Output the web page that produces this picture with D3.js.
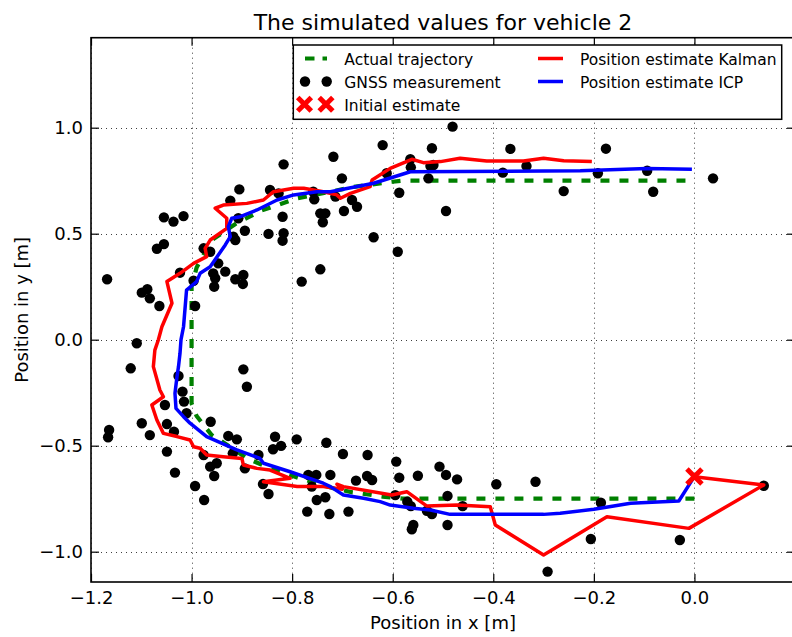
<!DOCTYPE html>
<html>
<head>
<meta charset="utf-8">
<script src="https://cdn.jsdelivr.net/npm/d3@7"></script>
<style>
  html, body { margin: 0; padding: 0; background: #fff; }
  svg { display: block; font-family: "DejaVu Sans", sans-serif; }
</style>
</head>
<body>
<svg id="chart" width="792" height="637"></svg>
<script>
// ---------------- DATA ----------------
const title = "The simulated values for vehicle 2";
const xLabel = "Position in x [m]";
const yLabel = "Position in y [m]";
const xTicks = [-1.2, -1.0, -0.8, -0.6, -0.4, -0.2, 0.0];
const yTicks = [-1.0, -0.5, 0.0, 0.5, 1.0];
const legendLabels = ["Actual trajectory", "GNSS measurement", "Initial estimate",
                      "Position estimate Kalman", "Position estimate ICP"];

const actualTrajectory = [
  [0.0, -0.75], [-0.58, -0.75], [-0.62, -0.74], [-0.68, -0.72], [-0.72, -0.70],
  [-0.79, -0.65], [-0.86, -0.59], [-0.89, -0.56], [-0.92, -0.51], [-0.96, -0.45],
  [-0.99, -0.36], [-1.0, -0.30], [-1.0, 0.25], [-0.99, 0.34], [-0.96, 0.47],
  [-0.91, 0.55], [-0.86, 0.61], [-0.79, 0.667], [-0.72, 0.70], [-0.68, 0.72],
  [-0.60, 0.745], [-0.58, 0.75], [0.0, 0.75]
];

const initialEstimate = [[0.0, -0.645]];

const gnss = [
  [-0.718,0.863],[-0.817,0.827],[-0.905,0.709],[-0.923,0.656],[-0.844,0.706],[-0.827,0.69],
  [-0.758,0.698],[-0.756,0.662],[-0.714,0.675],[-0.744,0.596],[-0.734,0.596],[-0.739,0.554],
  [-0.819,0.58],[-0.817,0.502],[-0.819,0.467],[-0.847,0.499],[-1.055,0.577],[-1.036,0.557],
  [-1.016,0.583],[-1.055,0.451],[-1.069,0.429],[-0.907,0.573],[-0.894,0.514],[-0.913,0.47],
  [-0.917,0.486],[-0.976,0.431],[-0.963,0.415],[-0.947,0.36],[-0.933,0.321],[-0.957,0.313],
  [-0.953,0.29],[-0.955,0.25],[-0.913,0.285],[-0.897,0.305],[-0.898,0.263],[-0.996,0.278],
  [-1.023,0.316],[-0.993,0.159],[-1.064,0.159],[-1.099,0.222],[-1.088,0.238],[-1.083,0.195],
  [-1.168,0.285],[-1.109,-0.017],[-0.781,0.274],[-0.744,0.332],
  [-0.62,0.918],[-0.481,1.005],[-0.522,0.903],[-0.366,0.9],[-0.701,0.761],[-0.612,0.785],
  [-0.565,0.851],[-0.564,0.813],[-0.525,0.819],[-0.519,0.824],[-0.529,0.761],[-0.334,0.819],
  [-0.381,0.788],[-0.26,0.701],[-0.587,0.693],[-0.681,0.659],[-0.671,0.627],[-0.697,0.607],
  [-0.494,0.607],[-0.638,0.483],[-0.59,0.415],
  [-0.176,0.901],[-0.192,0.785],[-0.094,0.797],[-0.082,0.698],[0.037,0.761],
  [-1.121,-0.135],[-1.026,-0.171],[-1.018,-0.245],[-1.015,-0.292],[-1.053,-0.308],[-1.01,-0.347],
  [-0.897,-0.14],[-0.89,-0.222],[-1.099,-0.394],[-1.049,-0.398],[-1.035,-0.434],[-1.083,-0.45],
  [-1.164,-0.426],[-1.166,-0.46],[-1.049,-0.528],[-1.033,-0.627],[-0.993,-0.69],[-0.975,-0.756],
  [-0.962,-0.387],[-0.927,-0.454],[-0.91,-0.47],[-0.976,-0.544],[-0.918,-0.536],[-0.95,-0.583],
  [-0.963,-0.599],[-0.955,-0.643],[-0.867,-0.544],[-0.834,-0.458],[-0.838,-0.517],[-0.822,-0.501],
  [-0.791,-0.47],[-0.732,-0.486],[-0.894,-0.607],[-0.858,-0.681],[-0.847,-0.728],[-0.768,-0.638],
  [-0.752,-0.638],[-0.761,-0.693],[-0.724,-0.638],[-0.751,-0.756],[-0.734,-0.743],[-0.77,-0.811],
  [-0.726,-0.822],
  [-0.699,-0.539],[-0.65,-0.544],[-0.673,-0.665],[-0.651,-0.643],[-0.641,-0.662],[-0.688,-0.811],
  [-0.593,-0.575],[-0.587,-0.651],[-0.595,-0.733],[-0.571,-0.764],[-0.564,-0.785],[-0.55,-0.642],
  [-0.532,-0.807],[-0.522,-0.822],[-0.559,-0.874],[-0.562,-0.894],[-0.507,-0.599],[-0.494,-0.638],
  [-0.472,-0.659],[-0.491,-0.737],[-0.461,-0.785],[-0.491,-0.874],[-0.394,-0.682],[-0.316,-0.67],
  [-0.292,-1.094],
  [-0.186,-0.769],[-0.206,-0.94],[-0.029,-0.945],[0.138,-0.689]
];

const kalmanEstimate = [
  [0.0,-0.646],[0.138,-0.685],[-0.011,-0.89],[-0.174,-0.835],[-0.30,-1.016],[-0.396,-0.874],
  [-0.406,-0.788],[-0.472,-0.78],[-0.532,-0.785],[-0.572,-0.717],[-0.602,-0.733],[-0.698,-0.693],
  [-0.711,-0.682],[-0.70,-0.705],[-0.738,-0.693],[-0.79,-0.693],[-0.857,-0.67],[-0.804,-0.654],
  [-0.844,-0.615],[-0.87,-0.607],[-0.897,-0.591],[-0.9,-0.56],[-0.937,-0.552],[-0.97,-0.544],
  [-0.983,-0.512],[-0.996,-0.505],[-1.003,-0.473],[-1.029,-0.457],[-1.056,-0.442],[-1.069,-0.379],
  [-1.079,-0.308],[-1.056,-0.269],[-1.063,-0.237],[-1.076,-0.127],[-1.073,-0.049],[-1.066,0.0],
  [-1.059,0.061],[-1.039,0.172],[-1.049,0.274],[-1.023,0.313],[-0.996,0.36],[-0.97,0.392],
  [-0.973,0.431],[-0.963,0.47],[-0.93,0.525],[-0.93,0.573],[-0.953,0.62],[-0.937,0.635],
  [-0.89,0.643],[-0.857,0.659],[-0.837,0.698],[-0.797,0.714],[-0.777,0.714],[-0.738,0.698],
  [-0.711,0.683],[-0.704,0.667],[-0.684,0.69],[-0.645,0.722],[-0.641,0.753],[-0.605,0.808],
  [-0.562,0.851],[-0.539,0.835],[-0.505,0.84],[-0.466,0.856],[-0.413,0.843],[-0.34,0.843],
  [-0.30,0.856],[-0.26,0.844],[-0.204,0.84]
];

const icpEstimate = [
  [0.0,-0.645],[-0.031,-0.761],[-0.127,-0.772],[-0.2,-0.80],[-0.267,-0.819],[-0.30,-0.824],
  [-0.486,-0.824],[-0.525,-0.803],[-0.559,-0.795],[-0.605,-0.78],[-0.625,-0.764],[-0.658,-0.748],
  [-0.698,-0.733],[-0.724,-0.693],[-0.738,-0.677],[-0.804,-0.623],[-0.857,-0.583],[-0.864,-0.56],
  [-0.91,-0.52],[-0.97,-0.457],[-1.003,-0.394],[-1.016,-0.363],[-1.031,-0.324],[-1.033,-0.253],
  [-1.029,-0.175],[-1.026,-0.127],[-1.023,-0.064],[-1.021,0.0],[-1.016,0.061],[-1.01,0.234],
  [-0.99,0.274],[-0.983,0.313],[-0.963,0.344],[-0.933,0.447],[-0.923,0.486],[-0.927,0.533],
  [-0.92,0.573],[-0.903,0.58],[-0.87,0.612],[-0.83,0.659],[-0.797,0.683],[-0.751,0.698],
  [-0.724,0.698],[-0.638,0.738],[-0.565,0.792],[-0.227,0.797],[-0.094,0.808],[-0.005,0.804]
];

// ---------------- LAYOUT ----------------
const W = 792, H = 637;
const plot = { left: 91, right: 795, top: 37.7, bottom: 582 };
const FONT = 18;

const svg = d3.select("#chart");
svg.append("rect").attr("width", W).attr("height", H).attr("fill", "#fff");

const x = d3.scaleLinear().domain([-1.2, 0.2]).range([plot.left, plot.right]);
const y = d3.scaleLinear().domain([-1.143, 1.4245]).range([plot.bottom, plot.top]);
const fmt = d3.format(".1f");

// grid
const grid = svg.append("g").attr("stroke", "#000").attr("stroke-width", 1)
  .attr("stroke-dasharray", "1,4").attr("opacity", 0.75);
grid.selectAll("line.gx").data(xTicks).join("line")
  .attr("x1", d => Math.round(x(d)) + 0.5).attr("x2", d => Math.round(x(d)) + 0.5)
  .attr("y1", plot.top).attr("y2", plot.bottom);
grid.selectAll("line.gy").data(yTicks).join("line")
  .attr("y1", d => Math.round(y(d)) + 0.5).attr("y2", d => Math.round(y(d)) + 0.5)
  .attr("x1", plot.left).attr("x2", plot.right);

// clip
svg.append("clipPath").attr("id", "clip").append("rect")
  .attr("x", plot.left).attr("y", plot.top)
  .attr("width", plot.right - plot.left).attr("height", plot.bottom - plot.top);
const g = svg.append("g").attr("clip-path", "url(#clip)");

const line = d3.line().x(d => x(d[0])).y(d => y(d[1]));

// actual trajectory
g.append("path").datum(actualTrajectory).attr("d", line)
  .attr("fill", "none").attr("stroke", "#008000").attr("stroke-width", 4.2)
  .attr("stroke-dasharray", "9,10");

// GNSS
g.selectAll("circle.gnss").data(gnss).join("circle")
  .attr("cx", d => x(d[0])).attr("cy", d => y(d[1])).attr("r", 5.2).attr("fill", "#000");

// Kalman
g.append("path").datum(kalmanEstimate).attr("d", line)
  .attr("fill", "none").attr("stroke", "#ff0000").attr("stroke-width", 3.5)
  .attr("stroke-linejoin", "round");

// ICP
g.append("path").datum(icpEstimate).attr("d", line)
  .attr("fill", "none").attr("stroke", "#0000ff").attr("stroke-width", 3.5)
  .attr("stroke-linejoin", "round");

// X marker
function drawX(sel, cx, cy, s) {
  const gg = sel.append("g").attr("transform", `translate(${cx},${cy})`)
    .attr("stroke", "#ff0000").attr("stroke-width", 5);
  gg.append("line").attr("x1", -s).attr("y1", -s).attr("x2", s).attr("y2", s);
  gg.append("line").attr("x1", -s).attr("y1", s).attr("x2", s).attr("y2", -s);
}
initialEstimate.forEach(d => drawX(g, x(d[0]), y(d[1]), 7.5));

// axes (inward ticks on all sides)
const axB = svg.append("g").attr("transform", `translate(0,${plot.bottom})`)
  .call(d3.axisBottom(x).tickValues(xTicks).tickFormat(fmt).tickSizeInner(-8).tickSizeOuter(0).tickPadding(9));
const axT = svg.append("g").attr("transform", `translate(0,${plot.top})`)
  .call(d3.axisTop(x).tickValues(xTicks).tickFormat("").tickSizeInner(-8).tickSizeOuter(0));
const axL = svg.append("g").attr("transform", `translate(${plot.left},0)`)
  .call(d3.axisLeft(y).tickValues(yTicks).tickFormat(fmt).tickSizeInner(-8).tickSizeOuter(0).tickPadding(8));
const axR = svg.append("g").attr("transform", `translate(${plot.right},0)`)
  .call(d3.axisRight(y).tickValues(yTicks).tickFormat("").tickSizeInner(-8).tickSizeOuter(0));
[axB, axT, axL, axR].forEach(a => {
  a.select(".domain").remove();
  a.selectAll(".tick line").attr("stroke", "#000").attr("stroke-width", 1.2);
  a.selectAll("text").attr("font-family", "DejaVu Sans").attr("font-size", FONT).attr("fill", "#000");
});

// frame
svg.append("rect").attr("x", plot.left).attr("y", plot.top)
  .attr("width", plot.right - plot.left).attr("height", plot.bottom - plot.top)
  .attr("fill", "none").attr("stroke", "#000").attr("stroke-width", 1.6);

// title + labels
svg.append("text").attr("x", (plot.left + plot.right) / 2).attr("y", 30)
  .attr("text-anchor", "middle").attr("font-size", 22).text(title);
svg.append("text").attr("x", (plot.left + plot.right) / 2).attr("y", 629)
  .attr("text-anchor", "middle").attr("font-size", FONT).text(xLabel);
svg.append("text").attr("transform", `translate(28,${(plot.top + plot.bottom) / 2}) rotate(-90)`)
  .attr("text-anchor", "middle").attr("font-size", FONT).text(yLabel);

// legend
const lg = svg.append("g");
lg.append("rect").attr("x", 293.3).attr("y", 45).attr("width", 488.4).attr("height", 74.3)
  .attr("fill", "#fff").attr("stroke", "#000").attr("stroke-width", 1.5);
const rows = [58.5, 81.5, 104.3];
const LF = 15.5;
// col 1
lg.append("line").attr("x1", 305).attr("x2", 327).attr("y1", rows[0]).attr("y2", rows[0])
  .attr("stroke", "#008000").attr("stroke-width", 4.2).attr("stroke-dasharray", "9.5,8");
[305, 326.7].forEach(cx => lg.append("circle").attr("cx", cx).attr("cy", rows[1]).attr("r", 5.2).attr("fill", "#000"));
[304.5, 326].forEach(cx => drawX(lg, cx, rows[2], 6.8));
// col 2
lg.append("line").attr("x1", 538).attr("x2", 563).attr("y1", rows[0]).attr("y2", rows[0])
  .attr("stroke", "#ff0000").attr("stroke-width", 3.5);
lg.append("line").attr("x1", 538).attr("x2", 563).attr("y1", rows[1]).attr("y2", rows[1])
  .attr("stroke", "#0000ff").attr("stroke-width", 3.5);
const legPos = [[344.3, rows[0]], [344.3, rows[1]], [344.3, rows[2]], [580, rows[0]], [580, rows[1]]];
legendLabels.forEach((t, i) => {
  lg.append("text").attr("x", legPos[i][0]).attr("y", legPos[i][1] + 6.2)
    .attr("font-size", LF).text(t);
});
</script>
</body>
</html>
